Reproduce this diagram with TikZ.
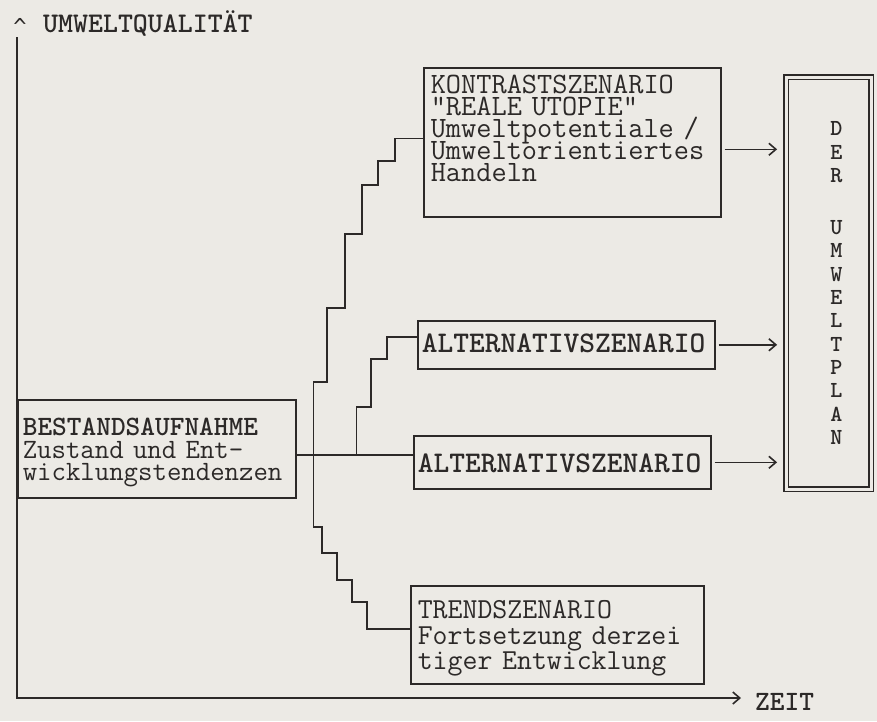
\documentclass[tikz,border=0pt]{standalone}
\usepackage{fontspec}
\newfontfamily\dejamono{DejaVu Sans Mono}
\usetikzlibrary{arrows.meta}
\definecolor{papier}{RGB}{236,234,229}
\definecolor{tinte}{RGB}{44,41,40}
\newcommand\tippen[3][m]{\fontfamily{lmtt}\fontseries{#1}\fontsize{#2}{#3}\selectfont\lineskiplimit=-40pt}
\begin{document}
\begin{tikzpicture}[x=1pt,y=-1pt,>={Straight Barb[length=7pt,width=12pt]},every node/.style={text=tinte},
  linie/.style={draw=tinte,line width=1.6pt},
  kasten/.style={linie,anchor=north west,align=left,inner ysep=0pt},
  alt/.style={kasten,font={\tippen[b]{30}{30}},text width=289pt,inner xsep=4pt,text depth=16pt},
  pfeil/.style={linie,->,shorten <=3pt,shorten >=8pt}]
\useasboundingbox (0,0) rectangle (877,721);
\fill[papier] (0,0) rectangle (877,721);
\node[inner sep=0pt,anchor=base,font={\dejamono\fontsize{22}{22}\selectfont}] (spitze) at (20,34) {\textasciicircum};
\node[inner sep=0pt,anchor=base west,font={\tippen[b]{28.5}{28.5}}] (qualitaet) at (43,32) {UMWELTQUALITÄT};
\node[inner sep=0pt,anchor=west,font={\tippen[b]{28}{28}}] (zeit) at (755,702) {ZEIT};
\coordinate (ursprung) at (17,698);
\draw[linie,->,shorten <=3pt,shorten >=14pt] (spitze.south -| ursprung) -- (ursprung) -- (ursprung -| zeit.west);
\node[kasten,font={\tippen{29.5}{22}},text width=283pt,inner xsep=7pt,text height=26pt,text depth=123pt] (kontrast) at (423,67) {KONTRASTSZENARIO\\"REALE UTOPIE"\\Umweltpotentiale /\\Umweltorientiertes\\Handeln};
\node[kasten,font={\tippen{28}{22.5}},text width=268pt,inner xsep=5pt,text height=36pt,text depth=62pt] (bestand) at (17,399) {{\fontseries{b}\selectfont BESTANDSAUFNAHME}\\Zustand und Ent-\\wicklungstendenzen};
\node[alt,text height=32pt] (alt1) at (417,320) {ALTERNATIVSZENARIO};
\node[alt,text height=37pt] (alt2) at (413,435) {ALTERNATIVSZENARIO};
\node[kasten,font={\tippen{29}{25.5}},text width=279pt,inner xsep=7pt,text height=33pt,text depth=65pt] (trend) at (410,585) {TRENDSZENARIO\\Fortsetzung derzei\\tiger Entwicklung};
\node[linie,line width=1.8pt,double=papier,double distance=3pt,minimum width=85pt,minimum height=412pt] (plan) at (828.5,283) {};
\node[inner sep=0pt,align=center,font={\tippen[b]{23}{23.3}}] (planschrift) at ([xshift=8pt]plan.center) {D\\E\\R\\[29pt]U\\M\\W\\E\\L\\T\\P\\L\\A\\N};
\coordinate (gabel) at ([yshift=-6pt]bestand.east);
\coordinate (stamm) at ([xshift=17pt]gabel);
\coordinate (ast) at ([xshift=60pt]gabel);
\draw[linie] (gabel) -- (gabel -| alt2.west);
\draw[linie] (stamm) |- (327,382) |- (345,308) |- (362,234) |- (378,185) |- (395,161) |- ([yshift=4pt]kontrast.west);
\draw[linie] (stamm) |- (322,527) |- (337,553) |- (352,580) |- (367,602) |- ([yshift=6pt]trend.west);
\draw[linie] (ast) |- (371,407) |- (387,359) |- ([yshift=8pt]alt1.west);
\coordinate (k-aus) at ([yshift=-7pt]kontrast.east);
\draw[pfeil] (k-aus) -- (k-aus -| plan.west);
\draw[pfeil] (alt1.east) -- (alt1.east -| plan.west);
\draw[pfeil] (alt2.east) -- (alt2.east -| plan.west);
\end{tikzpicture}
\end{document}
